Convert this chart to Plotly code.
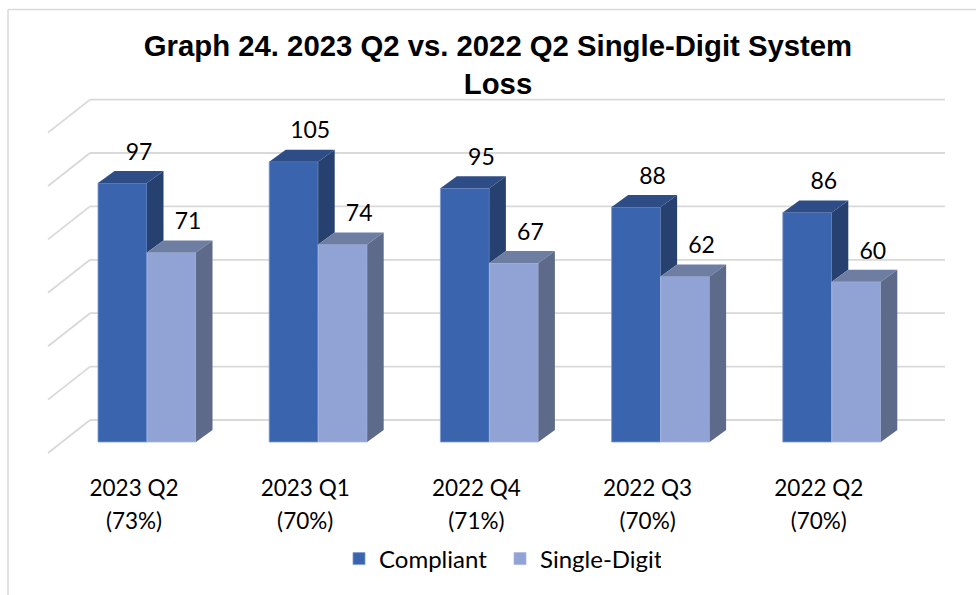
import plotly.graph_objects as go

categories = ["2023 Q2", "2023 Q1", "2022 Q4", "2022 Q3", "2022 Q2"]
shares = ["(73%)", "(70%)", "(71%)", "(70%)", "(70%)"]
compliant = [97, 105, 95, 88, 86]
single_digit = [71, 74, 67, 62, 60]
grid_values = [0, 20, 40, 60, 80, 100, 120]

PXX = 171.2      # px per category
PXY = 2.67       # px per value unit
BAR = 49 / PXX
DX, DY = 16.5 / PXX, 12 / PXY
WALL_X0, WALL_X1 = -57 / PXX, 798 / PXX
WALL_UP = 22 / PXY
DIAG_X, DIAG_Y = 42 / PXX, 33 / PXY
LABEL_LIFT = 5.5 / PXY

BLUE, BLUE_TOP, BLUE_SIDE = "#3A64AD", "#2E4D86", "#264170"
LIGHT, LIGHT_TOP, LIGHT_SIDE = "#91A3D5", "#6E7EA3", "#5D6A8A"

fig = go.Figure()
xs = list(range(len(categories)))
fig.add_bar(x=xs, y=compliant, name="Compliant", marker=dict(color=BLUE, line=dict(color="#7F9AD0", width=0.8)))
fig.add_bar(x=xs, y=single_digit, name="Single-Digit", marker=dict(color=LIGHT, line=dict(color="#A9B8E0", width=0.8)))


def poly(xv, yv, color):
    fig.add_scatter(x=xv, y=yv, mode="lines", fill="toself", fillcolor=color,
                    line=dict(width=0, color=color), showlegend=False, hoverinfo="skip")


for i, (c, s) in enumerate(zip(compliant, single_digit)):
    mid = i
    # dark side of the compliant bar: only the part above the single-digit top face
    poly([mid, mid + DX, mid + DX, mid, mid], [c, c + DY, s + DY, s, c], BLUE_SIDE)
    poly([mid - BAR, mid - BAR + DX, mid + DX, mid, mid - BAR], [c, c + DY, c + DY, c, c], BLUE_TOP)
    poly([mid, mid + DX, mid + BAR + DX, mid + BAR, mid], [s, s + DY, s + DY, s, s], LIGHT_TOP)
    poly([mid + BAR, mid + BAR + DX, mid + BAR + DX, mid + BAR, mid + BAR], [s, s + DY, DY, 0, s], LIGHT_SIDE)

label_font = dict(family="Lato", size=23, color="#000000")
fig.add_scatter(x=[i - BAR / 2 + DX for i in xs], y=[v + DY + LABEL_LIFT for v in compliant], mode="text",
                text=[str(v) for v in compliant], textposition="top center", textfont=label_font,
                showlegend=False, hoverinfo="skip")
fig.add_scatter(x=[i + BAR / 2 + DX for i in xs], y=[v + DY + LABEL_LIFT for v in single_digit], mode="text",
                text=[str(v) for v in single_digit], textposition="top center", textfont=label_font,
                showlegend=False, hoverinfo="skip")

MT, MB = 60, 125
PLOT_H = 595 - MT - MB


def py(p):
    """Pixel row to paper fraction of the plot area."""
    return (595 - MB - p) / PLOT_H


shapes = []
grid_line = dict(color="#D9D9D9", width=1.8)
for v in grid_values:
    y = v + WALL_UP
    shapes.append(dict(type="line", xref="x", yref="y", x0=WALL_X0, x1=WALL_X1, y0=y, y1=y,
                       line=grid_line, layer="below"))
    shapes.append(dict(type="line", xref="x", yref="y", x0=WALL_X0 - DIAG_X, x1=WALL_X0, y0=y - DIAG_Y, y1=y,
                       line=grid_line, layer="below"))
frame = dict(color="#D9D9D9", width=1.5)
shapes.append(dict(type="line", xref="paper", yref="paper", x0=8 / 976, x1=1, y0=py(9.5), y1=py(9.5), line=frame))
shapes.append(dict(type="line", xref="paper", yref="paper", x0=8 / 976, x1=8 / 976, y0=py(595), y1=py(9.5), line=frame))

fig.update_layout(
    width=976, height=595, autosize=False,
    margin=dict(l=0, r=0, t=MT, b=MB),
    paper_bgcolor="white", plot_bgcolor="rgba(0,0,0,0)",
    barmode="group", bargap=1 - 2 * BAR, bargroupgap=0,
    shapes=shapes,
    title=dict(text="Graph 24. 2023 Q2 vs. 2022 Q2 Single-Digit System<br>Loss",
               x=498 / 976, xanchor="center", xref="paper", y=1 - 55.5 / 595, yanchor="middle",
               font=dict(family="Liberation Sans", size=29.3, color="#000000", weight="bold")),
    xaxis=dict(range=[-147 / PXX, 829 / PXX], tickmode="array",
               tickvals=[i - 13 / PXX for i in xs],
               ticktext=[f'<span style="font-size:22.5px">{c}</span><br><span style="font-size:22.5px">{p}</span>'
                         for c, p in zip(categories, shares)],
               tickfont=dict(family="Lato", size=25.4, color="#000000"),
               showgrid=False, zeroline=False, showline=False, ticks=""),
    yaxis=dict(range=[(442 - 470) / PXY, (442 - 60) / PXY], showgrid=False, zeroline=False,
               showline=False, showticklabels=False, ticks=""),
    legend=dict(orientation="h", x=339 / 976, xanchor="left", y=py(559), yanchor="middle",
                entrywidth=116, entrywidthmode="pixels",
                font=dict(family="Lato", size=24, color="#000000"), bgcolor="rgba(0,0,0,0)"),
    showlegend=True,
)
fig.write_html("out.html", post_script="document.body.style.margin='0';",
               config=dict(displayModeBar=False))
